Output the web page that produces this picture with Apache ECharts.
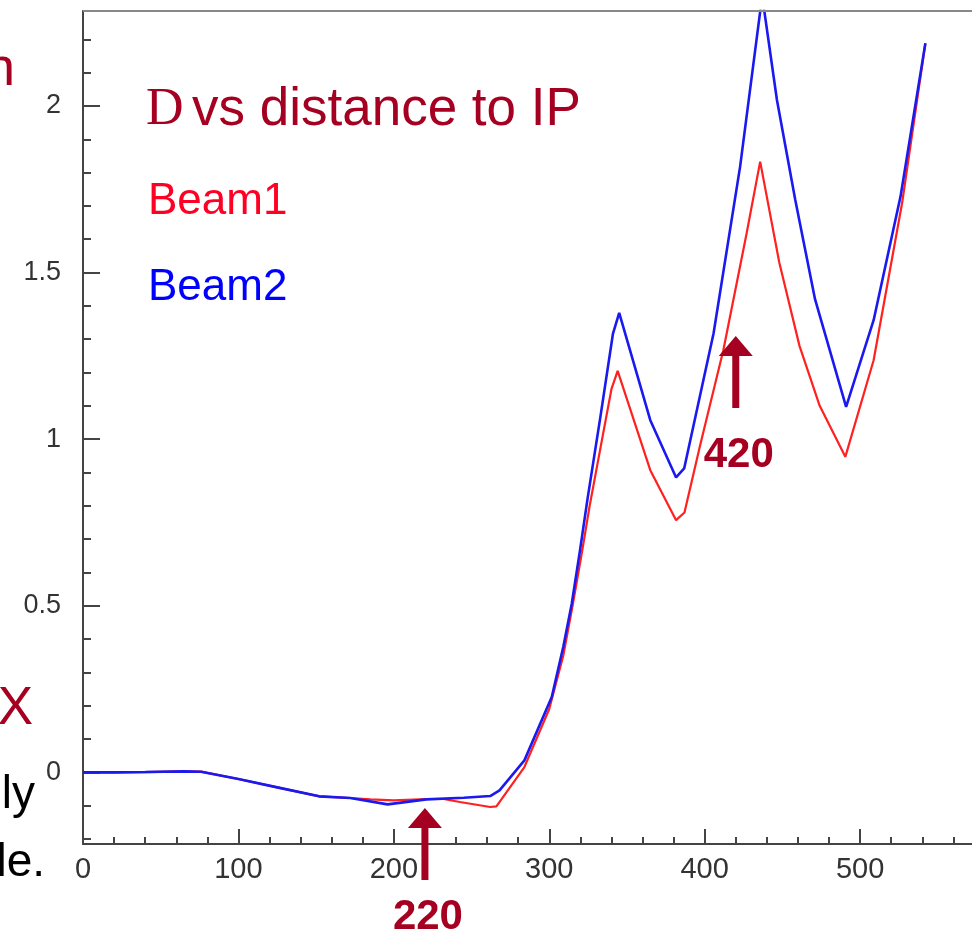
<!DOCTYPE html>
<html>
<head>
<meta charset="utf-8">
<script src="https://cdn.jsdelivr.net/npm/echarts@6/dist/echarts.min.js"></script>
<style>html,body{margin:0;padding:0;background:#fff;}#c{width:972px;height:933px;}</style>
</head>
<body>
<div id="c"></div>
<script>
// ---- data ----
const beam1X = [0, 20, 40, 65, 76, 100, 125, 152, 172, 185, 200, 221, 232, 242.5, 262, 266, 284, 300, 309, 315, 321, 326, 334, 340, 344, 365, 381.6, 387, 397, 412, 427, 435.7, 448, 461, 474, 490.5, 508.7, 527, 542];
const beam1Y = [0, 0, 0.001, 0.003, 0.002, -0.02, -0.045, -0.072, -0.077, -0.081, -0.084, -0.08, -0.08, -0.089, -0.104, -0.102, 0.016, 0.19, 0.35, 0.5, 0.66, 0.8, 1.0, 1.15, 1.205, 0.907, 0.757, 0.78, 0.98, 1.267, 1.618, 1.833, 1.53, 1.28, 1.1, 0.947, 1.237, 1.708, 2.188];
const beam2X = [0, 20, 40, 65, 76, 100, 125, 152, 172, 196, 221, 245, 262, 268, 284, 301.6, 309, 314.5, 319.8, 324.5, 333, 341, 345, 365, 381.6, 386.8, 405.7, 422.8, 437, 446.5, 458.3, 471, 491, 508.7, 526, 542];
const beam2Y = [0, 0, 0.001, 0.003, 0.002, -0.02, -0.045, -0.072, -0.077, -0.096, -0.081, -0.076, -0.071, -0.054, 0.036, 0.226, 0.376, 0.507, 0.667, 0.817, 1.07, 1.317, 1.379, 1.057, 0.885, 0.912, 1.317, 1.818, 2.33, 2.018, 1.718, 1.42, 1.097, 1.357, 1.728, 2.188];
const xMajorTicks = [0, 100, 200, 300, 400, 500];
const xMinorTicks = [20, 40, 60, 80, 120, 140, 160, 180, 220, 240, 260, 280, 320, 340, 360, 380, 420, 440, 460, 480, 520, 540, 560];
const yMajorTicks = [0, 0.5, 1, 1.5, 2];
const yMinorTicks = [-0.2, -0.1, 0.1, 0.2, 0.3, 0.4, 0.6, 0.7, 0.8, 0.9, 1.1, 1.2, 1.3, 1.4, 1.6, 1.7, 1.8, 1.9, 2.1, 2.2];
const xMin = 0, xMax = 572, yMin = -0.215, yMax = 2.285;
const arrowPositions = [220, 420];
const arrowLabels = ['220', '420'];

const DARKRED = '#A50021';
const AXIS = '#444';
const pairs = (xs, ys) => xs.map((x, i) => [x, ys[i]]);

const chart = echarts.init(document.getElementById('c'));
const font = 'Liberation Sans, Arial, sans-serif';

function xAxisDef(ticks, len, labels) {
  return {
    type: 'value', min: xMin, max: xMax, position: 'bottom',
    axisLine: { show: labels, onZero: false, lineStyle: { color: AXIS, width: 2 } },
    axisTick: { show: true, inside: true, length: len, customValues: ticks, lineStyle: { color: AXIS, width: 2 } },
    axisLabel: labels ? { show: true, customValues: ticks, fontSize: 29, color: '#333', margin: 11, fontFamily: font } : { show: false },
    splitLine: { show: false }
  };
}
function yAxisDef(ticks, len, labels) {
  return {
    type: 'value', min: yMin, max: yMax, position: 'left',
    axisLine: { show: labels, onZero: false, lineStyle: { color: AXIS, width: 2 } },
    axisTick: { show: true, inside: true, length: len, customValues: ticks, lineStyle: { color: AXIS, width: 2 } },
    axisLabel: labels ? { show: true, customValues: ticks, fontSize: 27, color: '#333', margin: 22, fontFamily: font } : { show: false },
    splitLine: { show: false }
  };
}

chart.setOption({
  animation: false,
  backgroundColor: '#fff',
  grid: { left: 83, top: 11, right: 0, height: 833, show: false, containLabel: false },
  xAxis: [xAxisDef(xMajorTicks, 15, true), xAxisDef(xMinorTicks, 7, false)],
  yAxis: [yAxisDef(yMajorTicks, 17, true), yAxisDef(yMinorTicks, 8, false)],
  series: [
    { name: 'Beam1', type: 'line', xAxisIndex: 0, yAxisIndex: 0, data: pairs(beam1X, beam1Y), symbol: 'none', clip: true,
      lineStyle: { color: '#FF2020', width: 2.2 } },
    { name: 'Beam2', type: 'line', xAxisIndex: 0, yAxisIndex: 0, data: pairs(beam2X, beam2Y), symbol: 'none', clip: true,
      lineStyle: { color: '#1A1AF0', width: 2.6 } }
  ]
});

const graphics = [
  { type: 'line', shape: { x1: 83, y1: 11, x2: 972, y2: 11 }, style: { stroke: '#888', lineWidth: 2 }, z: 5 },
  { type: 'text', x: 146, y: 110, style: { text: 'D', font: '52px "Liberation Serif", "Times New Roman", serif', fill: DARKRED, verticalAlign: 'middle' }, z: 10 },
  { type: 'text', x: 192, y: 110, style: { text: 'vs distance to IP', font: '53px "Liberation Sans", Arial, sans-serif', fill: DARKRED, verticalAlign: 'middle' }, z: 10 },
  { type: 'text', x: 148, y: 202, style: { text: 'Beam1', font: '44px "Liberation Sans", Arial, sans-serif', fill: '#FF0025', verticalAlign: 'middle' }, z: 10 },
  { type: 'text', x: 148, y: 288, style: { text: 'Beam2', font: '44px "Liberation Sans", Arial, sans-serif', fill: '#0000FF', verticalAlign: 'middle' }, z: 10 },
  { type: 'text', x: 15, y: 70, style: { text: 'n', font: '54px "Liberation Sans", Arial, sans-serif', fill: DARKRED, align: 'right', verticalAlign: 'middle' }, z: 10 },
  { type: 'text', x: 33, y: 709, style: { text: 'X', font: '53px "Liberation Sans", Arial, sans-serif', fill: DARKRED, align: 'right', verticalAlign: 'middle' }, z: 10 },
  { type: 'text', x: 35, y: 795, style: { text: 'ly', font: '46px "Liberation Sans", Arial, sans-serif', fill: '#000', align: 'right', verticalAlign: 'middle' }, z: 10 },
  { type: 'text', x: 45, y: 863, style: { text: 'le.', font: '46px "Liberation Sans", Arial, sans-serif', fill: '#000', align: 'right', verticalAlign: 'middle' }, z: 10 }
];

const arrowTipY = [808, 336];
const arrowEndY = [880, 408];
const labelY = [917, 455];
arrowPositions.forEach((v, i) => {
  const px = chart.convertToPixel({ xAxisIndex: 0 }, v);
  const tip = arrowTipY[i];
  graphics.push({ type: 'polygon', shape: { points: [[px, tip], [px - 17, tip + 20], [px + 17, tip + 20]] }, style: { fill: DARKRED }, z: 20 });
  graphics.push({ type: 'rect', shape: { x: px - 3.5, y: tip + 18, width: 7, height: arrowEndY[i] - tip - 18 }, style: { fill: DARKRED }, z: 20 });
  graphics.push({ type: 'text', x: px + 3, y: labelY[i], style: { text: arrowLabels[i], font: 'bold 42px "Liberation Sans", Arial, sans-serif', fill: DARKRED, align: 'center', verticalAlign: 'middle' }, z: 20 });
});
chart.setOption({ graphic: graphics });
</script>
</body>
</html>
